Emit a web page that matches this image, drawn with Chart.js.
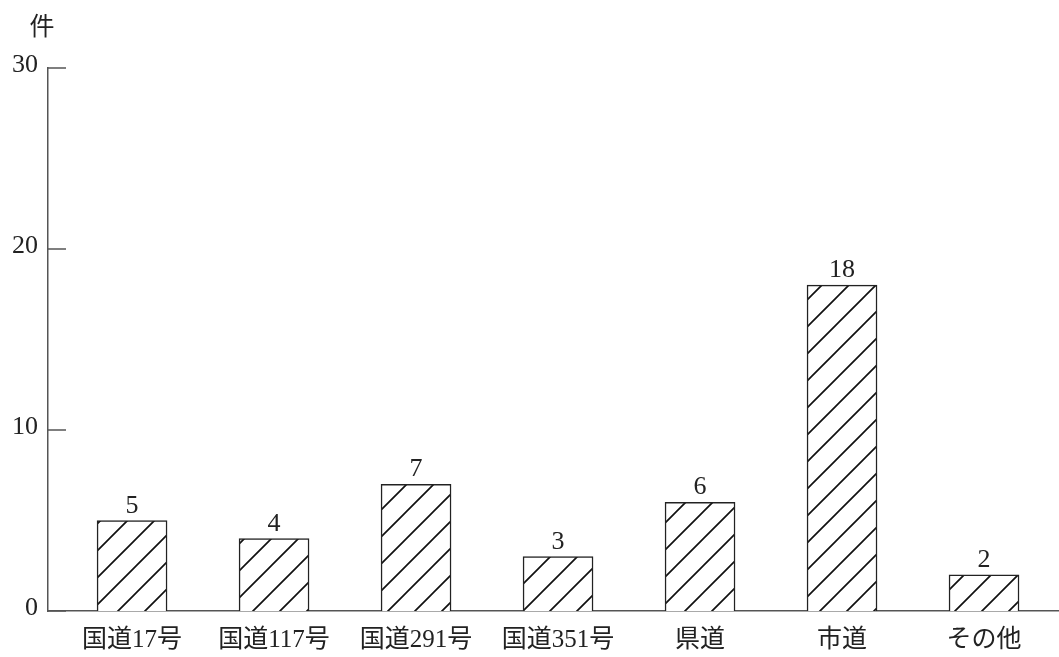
<!DOCTYPE html>
<html>
<head>
<meta charset="utf-8">
<script src="https://cdn.jsdelivr.net/npm/chart.js@4/dist/chart.umd.min.js"></script>
<style>
  html, body { margin: 0; padding: 0; background: #fff; }
  #wrap { width: 1059px; height: 657px; position: relative; }
</style>
</head>
<body>
<div id="wrap"><canvas id="myChart"></canvas></div>
<script>
const categories = ["国道17号", "国道117号", "国道291号", "国道351号", "県道", "市道", "その他"];
const counts = [5, 4, 7, 3, 6, 18, 2];
const yTicks = [0, 10, 20, 30];
const unitLabel = "件";

const FONT = "'Liberation Serif', 'Noto Sans CJK JP', serif";
const AXIS_COLOR = "#555";

// diagonal hatch "/"
function makeHatch() {
  const size = 27;
  const c = document.createElement("canvas");
  c.width = size;
  c.height = size;
  const g = c.getContext("2d");
  g.fillStyle = "#fff";
  g.fillRect(0, 0, size, size);
  g.strokeStyle = "#111";
  g.lineWidth = 1.7;
  g.beginPath();
  g.moveTo(-2, size + 2);
  g.lineTo(size + 2, -2);
  g.moveTo(-2, 2);
  g.lineTo(2, -2);
  g.moveTo(size - 2, size + 2);
  g.lineTo(size + 2, size - 2);
  g.stroke();
  return g.createPattern(c, "repeat");
}

const ctx = document.getElementById("myChart").getContext("2d");

const extras = {
  id: "extras",
  afterDatasetsDraw(chart) {
    const c = chart.ctx;
    const area = chart.chartArea;
    const y = chart.scales.y;
    c.save();
    // inward tick marks
    c.strokeStyle = AXIS_COLOR;
    c.lineWidth = 1.5;
    yTicks.forEach(v => {
      const py = y.getPixelForValue(v);
      c.beginPath();
      c.moveTo(area.left, py);
      c.lineTo(area.left + 18, py);
      c.stroke();
    });
    // value labels
    c.fillStyle = "#222";
    c.font = "26px " + FONT;
    c.textAlign = "center";
    c.textBaseline = "alphabetic";
    chart.getDatasetMeta(0).data.forEach((bar, i) => {
      c.fillText(String(counts[i]), bar.x, bar.y - 8);
    });
    // unit
    c.font = "25px 'Noto Sans CJK JP', sans-serif";
    c.textBaseline = "middle";
    c.fillText(unitLabel, area.left - 6, area.top - 43);
    c.restore();
  }
};

new Chart(ctx, {
  type: "bar",
  data: {
    datasets: [
      {
        data: counts.map((v, i) => ({ x: i + 1, y: v })),
        backgroundColor: makeHatch(),
        borderColor: "#222",
        borderWidth: 1.5,
        barThickness: 70
      }
    ]
  },
  options: {
    responsive: true,
    maintainAspectRatio: false,
    animation: false,
    layout: { padding: { top: 68, left: 0, right: 0, bottom: 0 } },
    plugins: {
      legend: { display: false },
      tooltip: { enabled: false }
    },
    scales: {
      x: {
        type: "linear",
        offset: false,
        min: 0.408,
        max: 7.528,
        grid: { display: false, drawTicks: false },
        border: { display: true, color: AXIS_COLOR, width: 1.5 },
        afterBuildTicks: s => { s.ticks = categories.map((c, i) => ({ value: i + 1 })); },
        afterFit: s => { s.height = 46; },
        ticks: {
          padding: 14,
          color: "#222",
          font: { family: FONT, size: 25 },
          maxRotation: 0,
          autoSkip: false,
          callback: v => categories[v - 1]
        }
      },
      y: {
        min: 0,
        max: 30,
        grid: { display: false, drawTicks: false },
        border: { display: true, color: AXIS_COLOR, width: 1.5 },
        afterBuildTicks: s => { s.ticks = yTicks.map(v => ({ value: v })); },
        afterFit: s => { s.width = 48; },
        ticks: {
          padding: 10,
          color: "#222",
          labelOffset: -3,
          font: { family: FONT, size: 26 }
        }
      }
    }
  },
  plugins: [extras]
});
</script>
</body>
</html>
